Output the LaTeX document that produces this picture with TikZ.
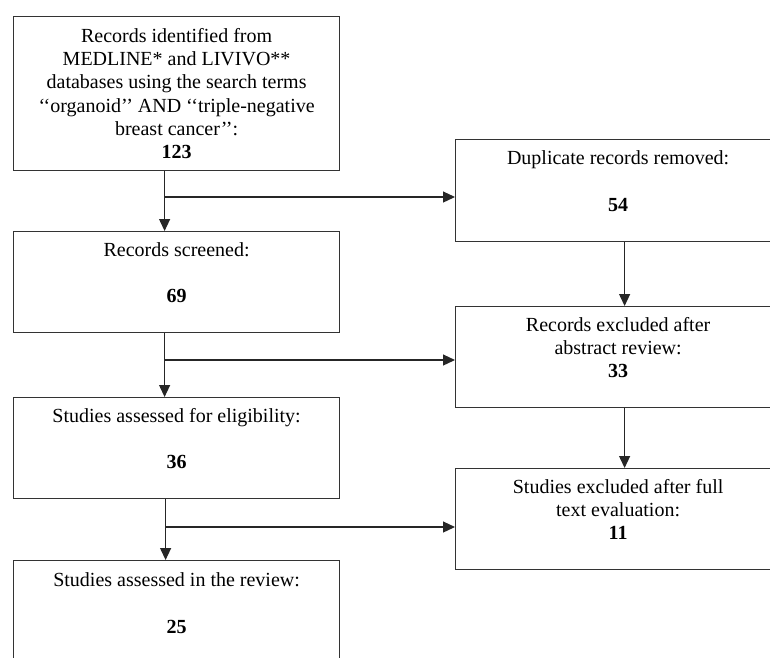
\documentclass[tikz,border=0pt]{standalone}
\usepackage{fontspec}
\setmainfont{Liberation Serif}
\usetikzlibrary{arrows.meta,calc}
\tikzset{
  box/.style={draw=black!80, line width=1.2pt, rectangle, inner sep=0pt, anchor=north west},
  txt/.style={align=center, inner sep=0pt, anchor=north, font=\fontsize{20}{23.2}\selectfont},
  arr/.style={line width=1.2pt, draw=black!85, -{Triangle[length=12pt,width=11pt]}},
  ln/.style={line width=1.2pt, draw=black!85}
}
\begin{document}
\begin{tikzpicture}[x=1pt,y=-1pt]
\useasboundingbox (0,0) rectangle (770,657);
% left column boxes
\node[box, minimum width=326pt, minimum height=154pt] (A) at (13,16) {};
\node[box, minimum width=326pt, minimum height=101pt] (S) at (13,231) {};
\node[box, minimum width=326pt, minimum height=101pt] (E) at (13,397) {};
\node[box, minimum width=326pt, minimum height=130pt] (R) at (13,560) {};
% right column boxes
\node[box, minimum width=325pt, minimum height=102pt] (D) at (455,139) {};
\node[box, minimum width=325pt, minimum height=101pt] (X1) at (455,306) {};
\node[box, minimum width=325pt, minimum height=101pt] (X2) at (455,468) {};
% texts
\node[txt] (tA) at ([yshift=-10pt]A.north) {\strut Records identified from\\ MEDLINE* and LIVIVO**\\ databases using the search terms\\ ‘‘organoid’’ AND ‘‘triple-negative\\ breast cancer’’:\\ \textbf{123}};
\node[txt] (tS) at ([yshift=-9pt]S.north) {\strut Records screened:\\ \strut\\ \textbf{69}};
\node[txt] (tE) at ([yshift=-9pt]E.north) {\strut Studies assessed for eligibility:\\ \strut\\ \textbf{36}};
\node[txt] (tR) at ([yshift=-10.5pt]R.north) {\strut Studies assessed in the review:\\ \strut\\ \textbf{25}};
\node[txt] (tD) at ([yshift=-9.5pt]D.north) {\strut Duplicate records removed:\\ \strut\\ \textbf{54}};
\node[txt] (tX1) at ([yshift=-9pt]X1.north) {\strut Records excluded after\\ abstract review:\\ \textbf{33}};
\node[txt] (tX2) at ([yshift=-9pt]X2.north) {\strut Studies excluded after full\\ text evaluation:\\ \textbf{11}};
% vertical connectors on the left
\draw[arr] ([xshift=-12pt]A.south) -- ([xshift=-12pt]S.north);
\draw[arr] ([xshift=-12pt]S.south) -- ([xshift=-12pt]E.north);
\draw[arr] ([xshift=-11pt]E.south) -- ([xshift=-11pt]R.north);
% branches to the right
\coordinate (b1) at (164,197);
\coordinate (b2) at (164,360);
\coordinate (b3) at (165,527);
\draw[arr] (b1) -- (b1 -| D.west);
\draw[arr] (b2) -- (b2 -| X1.west);
\draw[arr] (b3) -- (b3 -| X2.west);
% vertical connectors on the right
\draw[arr] ([xshift=6.5pt]D.south) -- ([xshift=6.5pt]X1.north);
\draw[arr] ([xshift=6.5pt]X1.south) -- ([xshift=6.5pt]X2.north);
\end{tikzpicture}
\end{document}
